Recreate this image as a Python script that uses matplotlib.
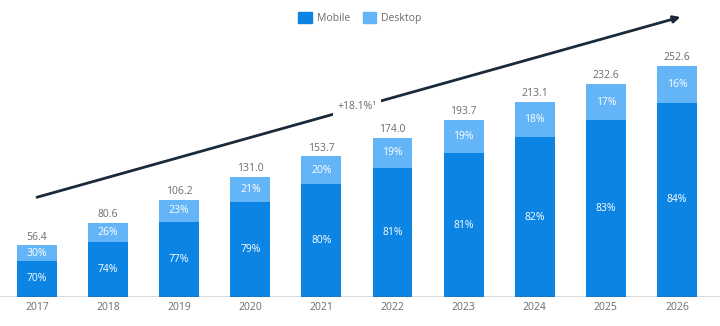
import matplotlib
matplotlib.use("Agg")
import matplotlib.pyplot as plt
from matplotlib.patches import Patch

plt.rcParams['font.family'] = ['Open Sans', 'DejaVu Sans']

years = ['2017', '2018', '2019', '2020', '2021', '2022', '2023', '2024', '2025', '2026']
totals = [56.4, 80.6, 106.2, 131.0, 153.7, 174.0, 193.7, 213.1, 232.6, 252.6]
mobile_share = [70, 74, 77, 79, 80, 81, 81, 82, 83, 84]
desktop_share = [30, 26, 23, 21, 20, 19, 19, 18, 17, 16]
cagr_label = '+18.1%\u00b9'

mobile_col = '#0b84e4'
desktop_col = '#64b5f8'
grey = '#6b6b6b'

fig = plt.figure(figsize=(7.2, 3.26), dpi=100)
ax = fig.add_axes([0, 0.089, 1, 0.911])

x = list(range(len(years)))
mobile = [t * m / 100 for t, m in zip(totals, mobile_share)]
desktop = [t - m for t, m in zip(totals, mobile)]

ax.bar(x, mobile, width=0.56, color=mobile_col, zorder=2)
ax.bar(x, desktop, width=0.56, bottom=mobile, color=desktop_col, zorder=2)

for i in x:
    ax.text(i, mobile[i] / 2, f'{mobile_share[i]}%', ha='center', va='center',
            color='white', fontsize=7.5)
    ax.text(i, mobile[i] + desktop[i] / 2, f'{desktop_share[i]}%', ha='center',
            va='center', color='white', fontsize=7.5)
    ax.text(i, totals[i] + 3, f'{totals[i]:.1f}', ha='center', va='bottom',
            color=grey, fontsize=7.5)
    ax.text(i, -6, years[i], ha='center', va='top', color=grey, fontsize=7.5,
            clip_on=False)

# growth arrow with the rate label sitting in a gap of the line
ax.annotate('', xy=(9.05, 306), xytext=(0, 109),
            arrowprops=dict(arrowstyle='-|>', color='#1b2a3a', lw=2,
                            mutation_scale=10, shrinkA=0, shrinkB=0), zorder=3)
ax.text(4.5, 208, cagr_label, ha='center', va='center', color=grey, fontsize=7.5,
        bbox=dict(facecolor='white', edgecolor='none', pad=3), zorder=4)

ax.axhline(0, color='#4a4a4a', lw=1, zorder=3)

ax.set_xlim(-0.52, 9.606)
ax.set_ylim(0, 324.6)
ax.axis('off')

handles = [Patch(color=mobile_col, label='Mobile'), Patch(color=desktop_col, label='Desktop')]
leg = fig.legend(handles=handles, loc='center', bbox_to_anchor=(0.5, 0.946), ncol=2,
                 frameon=False, fontsize=7.5, handlelength=1.3, handleheight=1.3,
                 columnspacing=1.2, handletextpad=0.5)
for t in leg.get_texts():
    t.set_color(grey)

fig.savefig('out.png', dpi=100)
